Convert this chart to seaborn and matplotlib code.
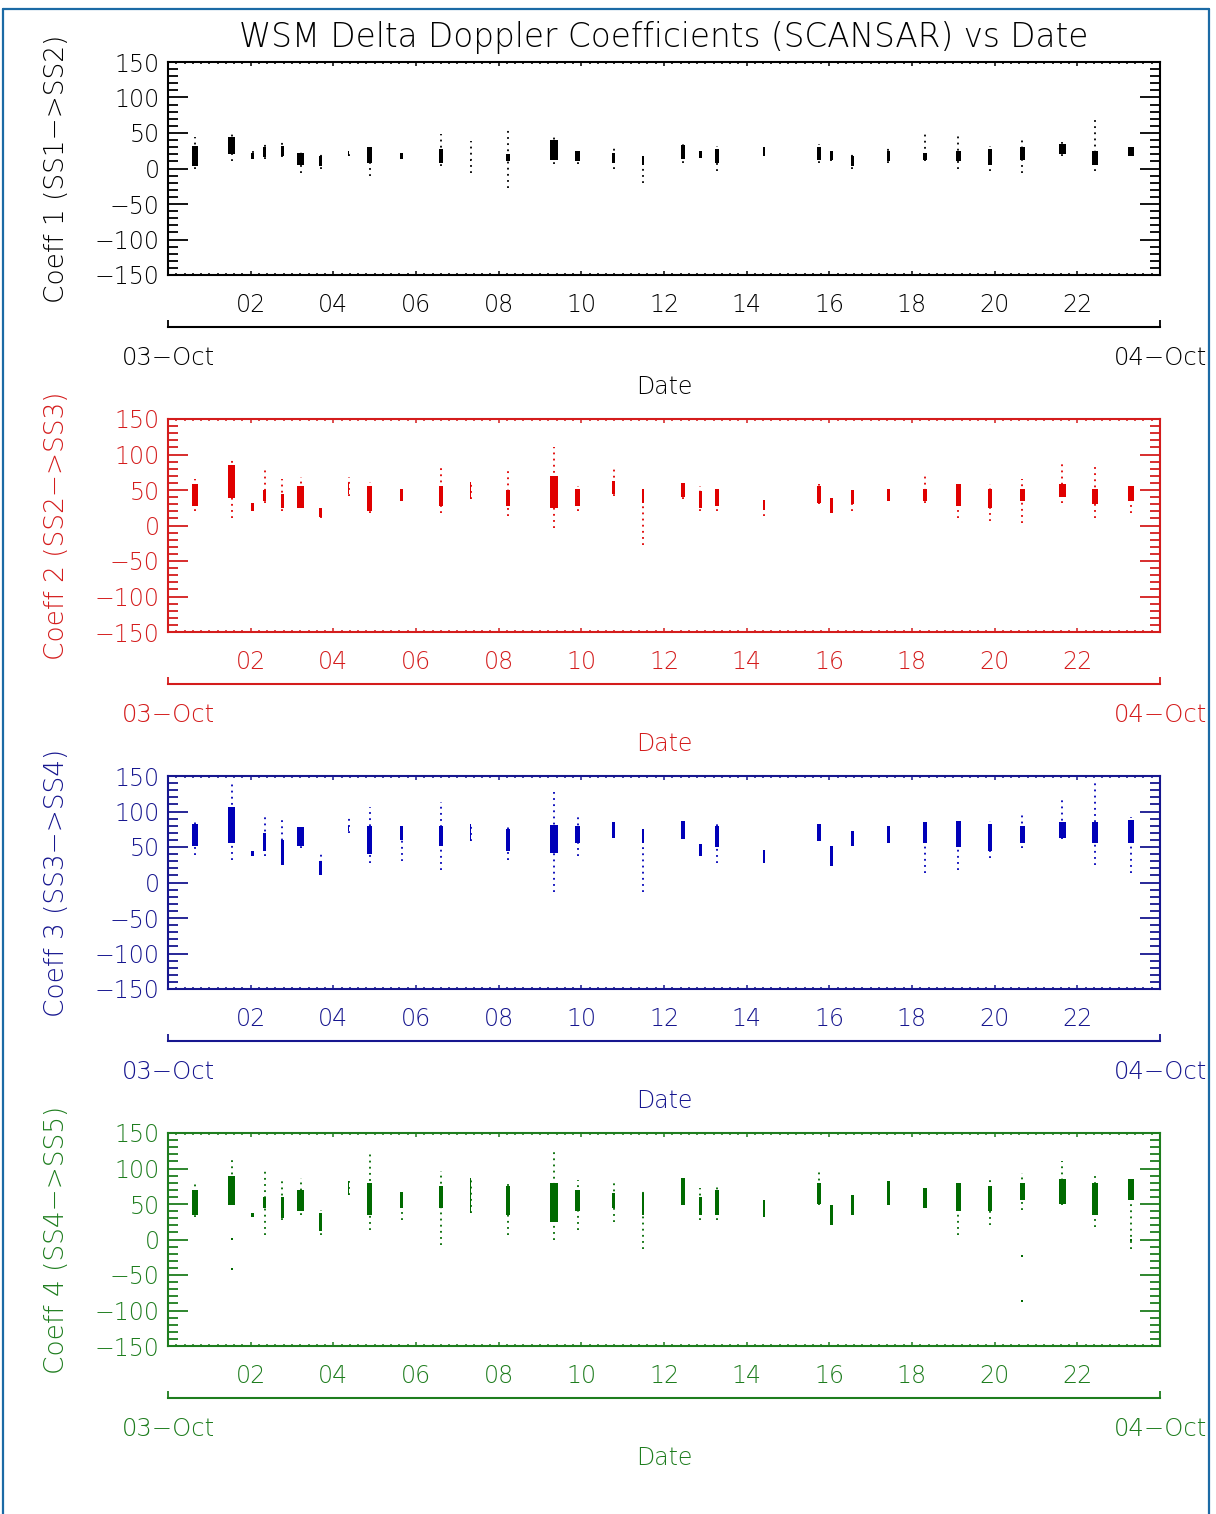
import numpy as np
import matplotlib
matplotlib.use('Agg')
import matplotlib.pyplot as plt
import matplotlib.ticker as ticker
from matplotlib.lines import Line2D
import seaborn as sns

sns.set_theme(style='white')
plt.rcParams['font.family'] = ['DejaVu Sans']
plt.rcParams['font.weight'] = 200
plt.rcParams['axes.labelweight'] = 200

# pass start (hours of 03-Oct) and duration of each SCANSAR pass
pass_hour = [0.65, 1.54, 2.05, 2.34, 2.77, 3.21, 3.69, 4.37, 4.88, 5.65, 6.60,
             7.32, 8.22, 9.33, 9.91, 10.78, 11.50, 12.47, 12.88, 13.29, 14.41,
             15.76, 16.05, 16.56, 17.43, 18.32, 19.12, 19.89, 20.67, 21.64,
             22.43, 23.30]
pass_len = [0.20, 0.25, 0.10, 0.10, 0.12, 0.25, 0.10, 0.05, 0.20, 0.10, 0.15,
            0.05, 0.15, 0.30, 0.20, 0.08, 0.08, 0.15, 0.10, 0.15, 0.08, 0.15,
            0.10, 0.08, 0.08, 0.15, 0.20, 0.15, 0.20, 0.25, 0.25, 0.25]

# coeff 1 (SS1->SS2): full spread and dense part of each pass
c1_lo = [0, 11, 14, 14, 16, -7, 0, 18, -10, 14, 4, -7, -27, 7, 7, 0, -21,
         8, 15, -3, 18, 8, 11, 0, 8, 11, 0, -3, -7, 18, -3, 18]
c1_hi = [44, 51, 25, 39, 37, 25, 22, 24, 32, 22, 49, 39, 56, 46, 25, 29, 22,
         35, 25, 32, 32, 35, 25, 22, 29, 51, 46, 32, 42, 37, 70, 32]
c1_core_lo = [4, 20, 14, 16, 18, 5, 3, 18, 8, 14, 8, 10, 10, 12, 10, 8, 5,
              14, 15, 8, 18, 12, 12, 4, 10, 12, 10, 5, 12, 20, 5, 18]
c1_core_hi = [32, 45, 22, 30, 32, 22, 18, 24, 30, 22, 28, 12, 20, 40, 24, 22, 18,
              33, 25, 28, 30, 30, 24, 18, 24, 22, 25, 28, 30, 34, 25, 30]

# coeff 2 (SS2->SS3)
c2_lo = [21, 10, 21, 32, 21, 24, 10, 42, 17, 34, 18, 37, 14, -3, 21, 42, -28,
         38, 21, 20, 14, 30, 17, 20, 34, 32, 11, 7, 3, 31, 11, 17]
c2_hi = [66, 92, 32, 82, 66, 68, 25, 68, 61, 51, 82, 61, 82, 110, 56, 82, 52,
         61, 56, 54, 39, 58, 39, 51, 51, 73, 61, 59, 66, 87, 82, 59]
c2_core_lo = [28, 39, 21, 35, 25, 25, 12, 45, 20, 34, 28, 37, 28, 24, 28, 45, 31,
              40, 25, 28, 22, 32, 17, 30, 34, 35, 28, 25, 35, 40, 30, 35]
c2_core_hi = [59, 85, 32, 50, 45, 55, 24, 60, 55, 51, 56, 61, 50, 70, 52, 62, 52,
              60, 48, 52, 36, 56, 39, 50, 51, 52, 59, 52, 52, 58, 52, 56]

# coeff 3 (SS3->SS4)
c3_lo = [39, 32, 37, 37, 25, 49, 11, 70, 28, 30, 18, 58, 32, -13, 37, 63, -14,
         61, 37, 28, 28, 58, 23, 51, 56, 14, 18, 35, 49, 61, 25, 14]
c3_hi = [85, 142, 44, 93, 93, 82, 44, 93, 106, 79, 113, 82, 82, 127, 92, 85, 75,
         86, 54, 82, 46, 82, 51, 72, 79, 85, 86, 86, 96, 117, 141, 92]
c3_core_lo = [51, 56, 37, 45, 25, 52, 11, 72, 40, 60, 52, 58, 45, 41, 56, 63, 56,
              61, 37, 50, 28, 58, 23, 51, 56, 55, 50, 45, 55, 62, 55, 55]
c3_core_hi = [82, 106, 44, 70, 60, 78, 30, 80, 80, 79, 80, 82, 75, 81, 80, 85, 75,
              86, 54, 80, 46, 82, 51, 72, 79, 85, 86, 82, 80, 85, 85, 88]

# coeff 4 (SS4->SS5)
c4_lo = [31, 49, 31, 7, 27, 34, 7, 62, 13, 27, -8, 38, 7, -1, 14, 24, -14,
         49, 28, 28, 31, 49, 21, 35, 48, 45, 6, 21, 41, 49, 17, -14]
c4_hi = [83, 113, 38, 101, 84, 87, 41, 83, 122, 69, 97, 87, 80, 125, 84, 84, 69,
         87, 73, 76, 55, 97, 49, 63, 83, 73, 83, 84, 94, 111, 92, 87]
c4_core_lo = [35, 49, 31, 45, 30, 40, 12, 62, 35, 45, 45, 38, 35, 25, 40, 45, 35,
              49, 35, 35, 31, 50, 21, 35, 48, 45, 40, 40, 55, 50, 35, 55]
c4_core_hi = [70, 90, 38, 60, 60, 70, 38, 83, 80, 67, 75, 87, 75, 80, 70, 65, 65,
              87, 60, 70, 55, 80, 49, 63, 83, 73, 80, 75, 80, 85, 80, 85]
c4_out_hour = [1.54, 1.54, 20.67, 20.67, 23.30]
c4_out_val = [1, -42, -23, -87, 0]

panels = [
    ('Coeff 1 (SS1−>SS2)', 'black', c1_lo, c1_hi, c1_core_lo, c1_core_hi, [], []),
    ('Coeff 2 (SS2−>SS3)', '#d41c1c', c2_lo, c2_hi, c2_core_lo, c2_core_hi, [], []),
    ('Coeff 3 (SS3−>SS4)', '#16168f', c3_lo, c3_hi, c3_core_lo, c3_core_hi, [], []),
    ('Coeff 4 (SS4−>SS5)', '#1e7d1e', c4_lo, c4_hi, c4_core_lo, c4_core_hi,
     c4_out_hour, c4_out_val),
]
dot_colors = ['black', '#e00000', '#0000b8', '#006a00']

W, H = 1216, 1514
fig = plt.figure(figsize=(W / 100, H / 100), dpi=100)
fig.patch.set_facecolor('white')

for i, (label, color, lo, hi, core_lo, core_hi, out_h, out_v) in enumerate(panels):
    top = 62 + 357 * i
    ax = fig.add_axes([168 / W, 1 - (top + 213) / H, 992 / W, 213 / H])
    dc = dot_colors[i]
    ax.vlines(pass_hour, lo, hi, colors=dc, linestyles=(0, (1, 2.4)), linewidth=1.3)
    heights = np.array(core_hi) - np.array(core_lo)
    ax.bar(pass_hour, heights, width=np.array(pass_len) * 0.65, bottom=core_lo,
           color=dc, linewidth=0)
    if out_h:
        sns.scatterplot(x=out_h, y=out_v, ax=ax, color=dc, marker='s', s=4,
                        linewidth=0, legend=False)

    ax.set_xlim(0, 24)
    ax.set_ylim(-150, 150)
    ax.set_xticks(range(2, 23, 2))
    ax.set_xticklabels([f'{h:02d}' for h in range(2, 23, 2)])
    ax.xaxis.set_minor_locator(ticker.MultipleLocator(0.2))
    ax.set_yticks(range(-150, 151, 50))
    ax.set_yticklabels([str(v).replace('-', '−') for v in range(-150, 151, 50)])
    ax.yaxis.set_minor_locator(ticker.MultipleLocator(10))
    ax.tick_params(which='both', direction='in', top=True, right=True, bottom=True,
                   left=True, colors=color, labelsize=17)
    ax.tick_params(axis='x', which='major', length=3, width=1.1, pad=13)
    ax.tick_params(axis='x', which='minor', length=1.6, width=1.1)
    ax.tick_params(axis='y', which='major', length=14.4, width=1.3, pad=6)
    ax.tick_params(axis='y', which='minor', length=7.2, width=1.3)
    for s in ax.spines.values():
        s.set_color(color)
        s.set_linewidth(1.5)
    ax.set_ylabel(label, color=color, fontsize=19, fontweight=200)
    ax.yaxis.set_label_coords(-0.100, 0.5)

    # separate date axis below each panel
    line_y = top + 213 + 52
    dax = fig.add_axes([168 / W, 1 - line_y / H, 992 / W, 0.0005])
    dax.set_xlim(0, 24)
    dax.patch.set_visible(False)
    for name in ['top', 'left', 'right']:
        dax.spines[name].set_visible(False)
    dax.spines['bottom'].set_color(color)
    dax.spines['bottom'].set_linewidth(1.5)
    dax.set_yticks([])
    dax.set_xticks([0, 24])
    dax.set_xticklabels(['03−Oct', '04−Oct'])
    dax.tick_params(axis='x', direction='in', length=5, width=1.3, colors=color,
                    labelsize=17.5, pad=14, bottom=True)
    dax.set_xlabel('Date', color=color, fontsize=17, fontweight=200, labelpad=3)

fig.text(664 / W, 1 - 37 / H, 'WSM Delta Doppler Coefficients (SCANSAR) vs Date',
         ha='center', va='center', fontsize=23.5, color='black')

# blue frame of the original page
frame = '#1b6aa5'
fig.add_artist(Line2D([3 / W, 3 / W], [0, 1 - 9 / H], color=frame, lw=1.6))
fig.add_artist(Line2D([1209 / W, 1209 / W], [0, 1 - 9 / H], color=frame, lw=1.6))
fig.add_artist(Line2D([3 / W, 1209 / W], [1 - 9 / H, 1 - 9 / H], color=frame, lw=1.6))

fig.savefig('out.png', dpi=100)
